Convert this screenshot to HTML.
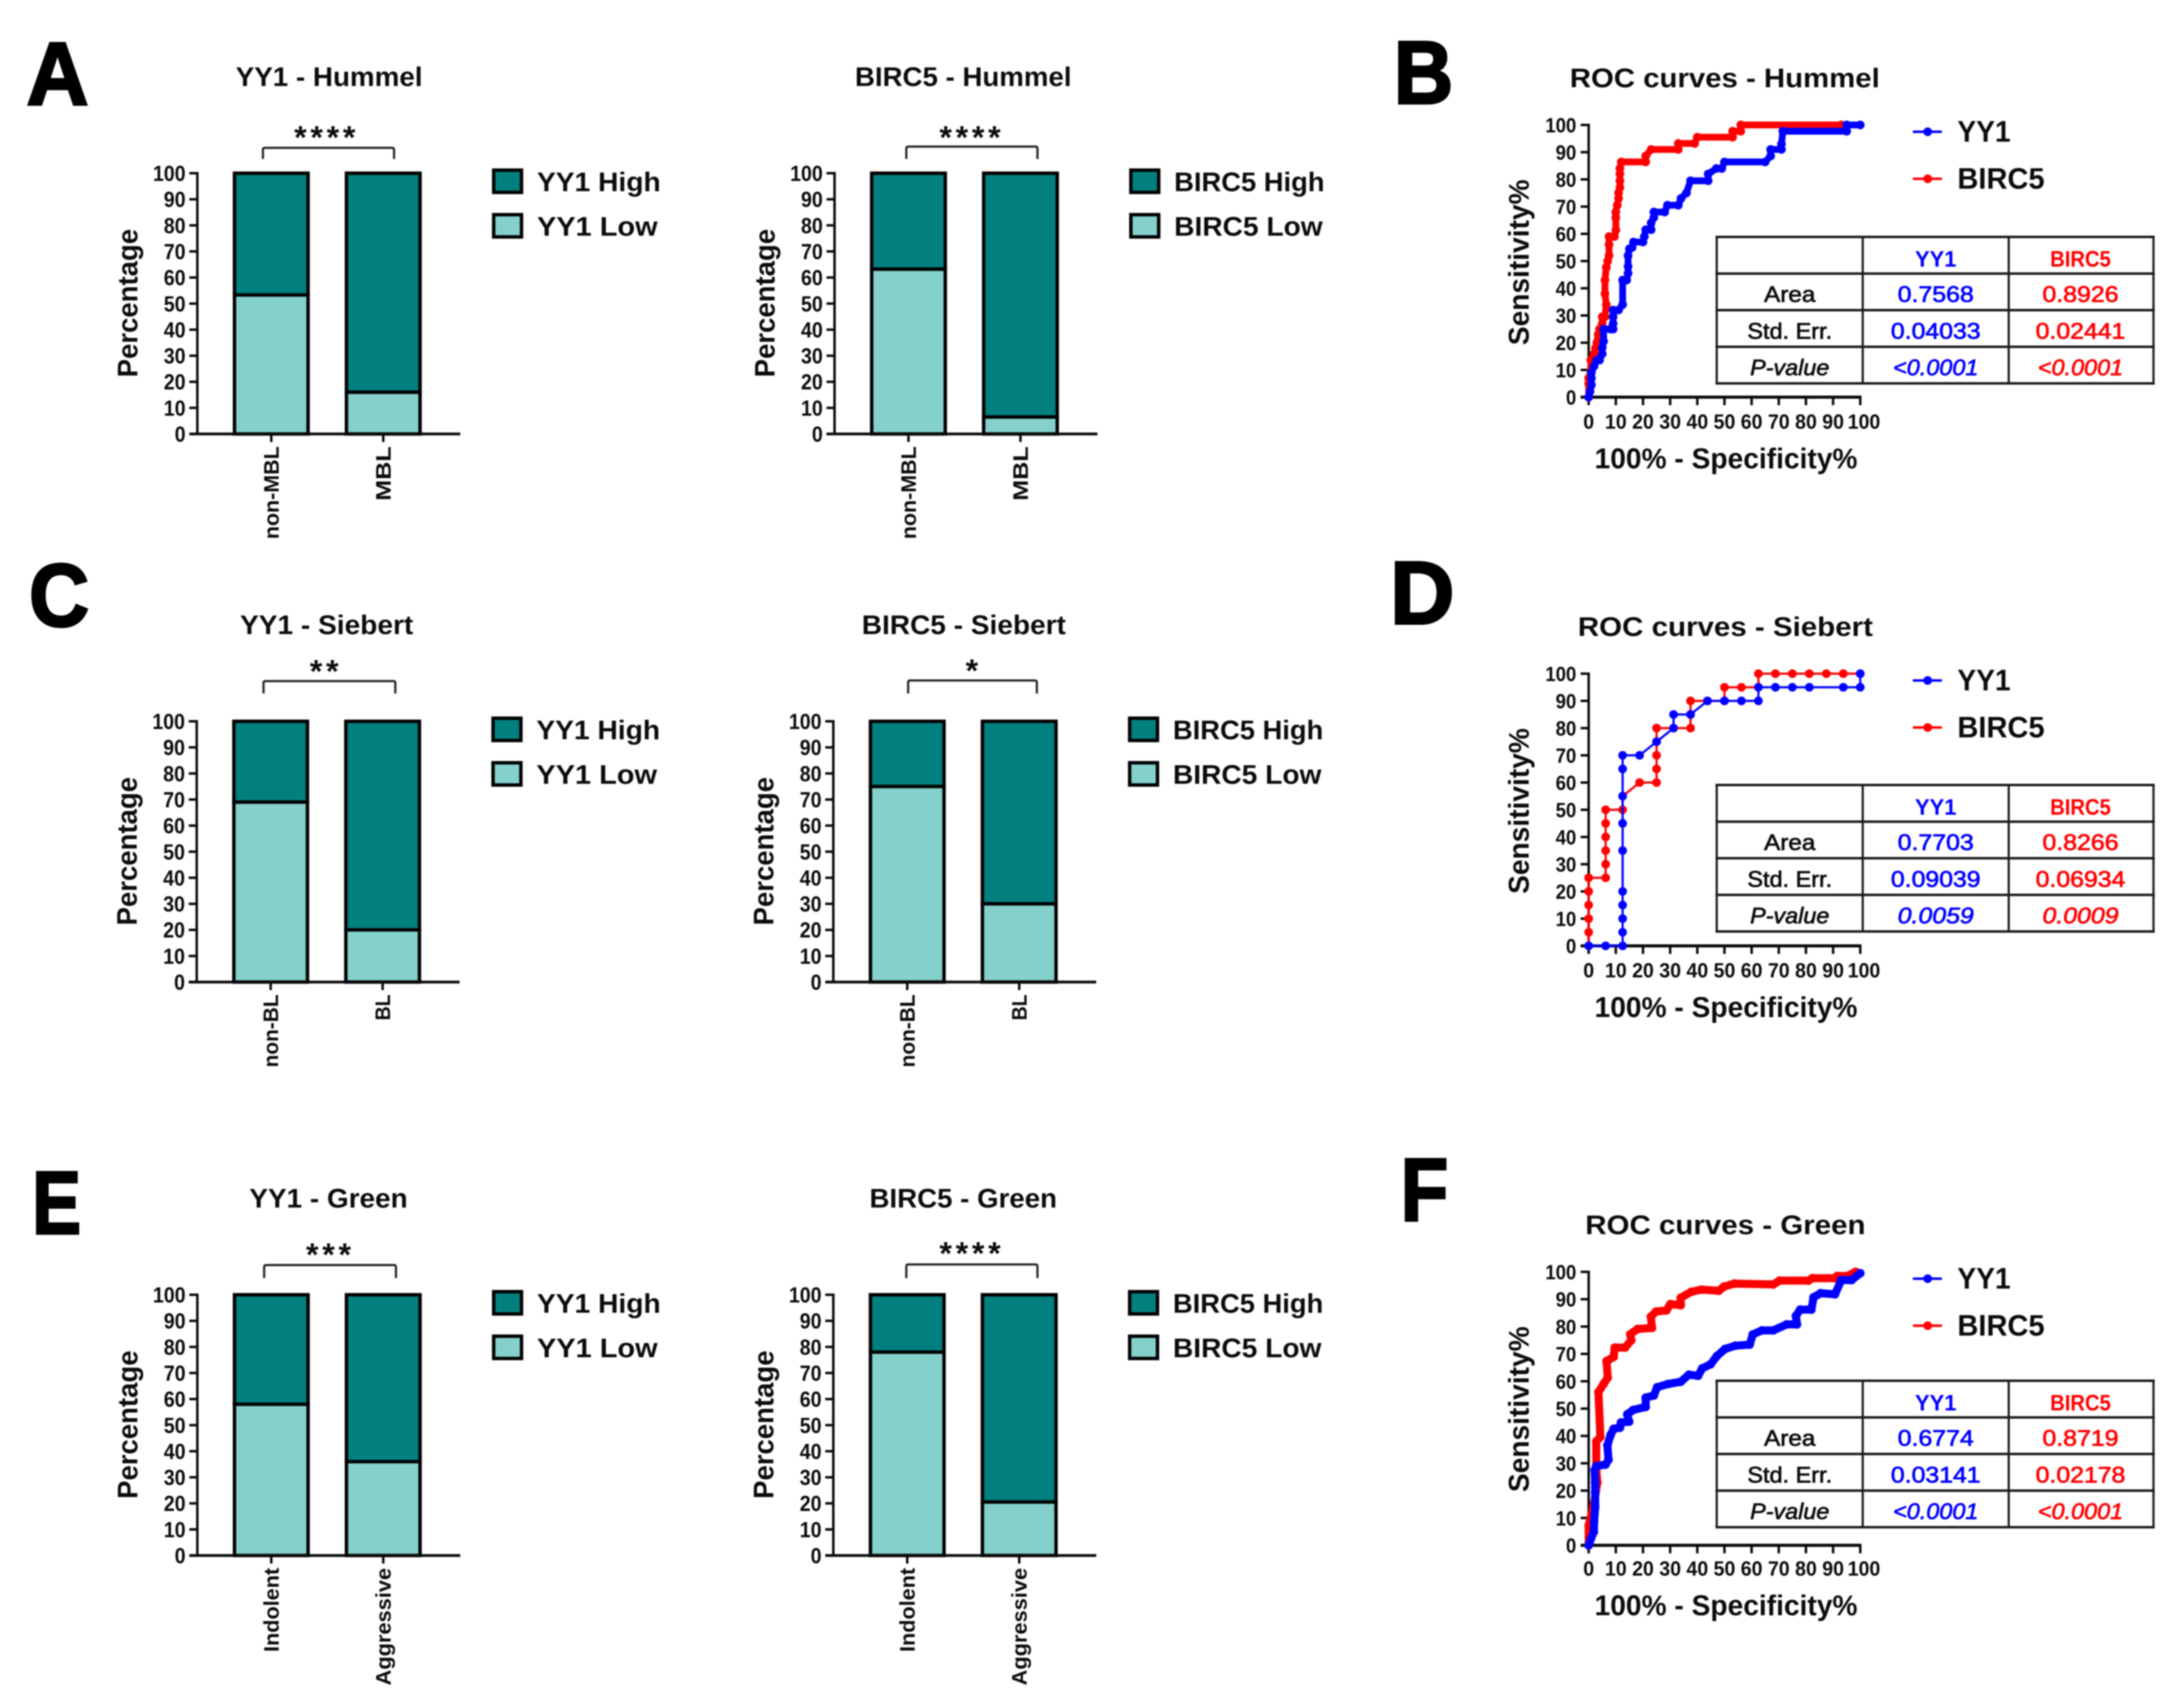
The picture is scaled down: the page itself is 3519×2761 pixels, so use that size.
<!DOCTYPE html>
<html lang="en">
<head>
<meta charset="utf-8">
<title>YY1 and BIRC5 expression and ROC curves</title>
<style>
html,body{margin:0;padding:0;background:#fff;}
body{width:3519px;height:2761px;overflow:hidden;}
#figure{display:block;filter:blur(1.1px);}
text{font-family:"Liberation Sans",sans-serif;fill:#0c0c0c;}
.letter{font-size:144px;font-weight:bold;fill:#000;stroke:#000;stroke-width:4px;}
</style>
</head>
<body>
<svg id="figure" xmlns="http://www.w3.org/2000/svg" width="3519" height="2761" viewBox="0 0 3519 2761">
<rect x="0" y="0" width="3519" height="2761" fill="#ffffff"/>
<text class="letter" x="43" y="169" textLength="100" lengthAdjust="spacingAndGlyphs">A</text>
<text class="letter" x="2253" y="167" textLength="96" lengthAdjust="spacingAndGlyphs">B</text>
<text class="letter" x="47" y="1012" textLength="97" lengthAdjust="spacingAndGlyphs">C</text>
<text class="letter" x="2247" y="1008" textLength="104" lengthAdjust="spacingAndGlyphs">D</text>
<text class="letter" x="52" y="1994" textLength="79" lengthAdjust="spacingAndGlyphs">E</text>
<text class="letter" x="2264" y="1973" textLength="77" lengthAdjust="spacingAndGlyphs">F</text>
</svg>
<script>
// ---------- stacked-bar data (percentage "Low"; remainder to 100 is "High") ----------
const percentTicks = [0,10,20,30,40,50,60,70,80,90,100];
const categoriesMbl = ['non-MBL','MBL'];
const categoriesBl = ['non-BL','BL'];
const categoriesGreen = ['Indolent','Aggressive'];
const yy1LowHummel = [53.3,16];
const birc5LowHummel = [63.2,6.5];
const yy1LowSiebert = [69,20];
const birc5LowSiebert = [75,30];
const yy1LowGreen = [58,36];
const birc5LowGreen = [78,20.5];

// ---------- ROC data: [100% - specificity, sensitivity] ----------
const rocTicks = [0,10,20,30,40,50,60,70,80,90,100];
const hummelYY1 = [[0,0],[0.5,2],[1,4.5],[1,7],[1,9],[2,11.4],[3,13.6],[4,13.6],[5,15.9],[5,18.2],[5.5,20.5],[5.5,25],[8,25],[9,25],[9,27],[9,29.5],[9,32],[11,32],[12.5,34],[12.5,43],[14,43],[14.5,45.5],[14.5,48],[14.5,52],[15,54.5],[16,55],[16.5,57],[20,57],[20.5,59],[21,61.5],[23,61.5],[23,64],[24,66],[24,68],[28,68],[29,70.5],[33,70.5],[34,73],[36,75],[37.5,79.5],[44,79.5],[44,82],[47,84],[49,84],[50,86.4],[65,86.4],[67,88.6],[67,91],[71,91],[71,93],[71.5,97.7],[95,97.7],[95,100],[100,100]];
const hummelBIRC5 = [[0,0],[0,5],[0,7],[0.8,9],[0.8,13.6],[2,16],[2.5,18],[3,20],[3.5,23],[4,25],[5,27],[5,29.5],[6,29.5],[6.5,34],[6,38],[6,43],[6.5,47.7],[7,50],[7.5,52],[7.5,56],[7.5,59],[9.5,59],[10,61.4],[10,66],[10,68],[10.5,70.5],[11,73],[11,75],[11.5,77],[11.5,79.5],[11.5,82],[11.5,84],[12,86.4],[21,86.4],[21,88.6],[23,91],[33,91],[33,93.2],[39,93.2],[40,95.5],[53,95.5],[53,97.7],[56,97.7],[56,100],[93,100]];
const siebertYY1 = [[0,0],[6.25,0],[12.5,0],[12.5,5],[12.5,10],[12.5,15],[12.5,20],[12.5,35],[12.5,45],[12.5,55],[12.5,65],[12.5,70],[18.75,70],[25,75],[31.25,80],[31.25,85],[37.5,85],[43.75,90],[50,90],[56.25,90],[62.5,90],[62.5,95],[68.75,95],[75,95],[81.25,95],[93.75,95],[100,95],[100,100]];
const siebertBIRC5 = [[0,0],[0,5],[0,10],[0,15],[0,20],[0,25],[6.25,25],[6.25,30],[6.25,35],[6.25,40],[6.25,45],[6.25,50],[12.5,50],[12.5,55],[18.75,60],[25,60],[25,65],[25,70],[25,75],[25,80],[31.25,80],[37.5,80],[37.5,85],[37.5,90],[43.75,90],[50,90],[50,95],[56.25,95],[62.5,95],[62.5,100],[68.75,100],[75,100],[81.25,100],[87.5,100],[93.75,100],[100,100]];
const greenYY1 = [[0,0],[0.9,2.6],[1.9,4.9],[2,8.7],[2.4,14],[2.4,19.3],[2.4,23],[2.2,27.5],[2.8,29],[6.2,29.5],[7.3,31.3],[6.9,36.6],[8.1,40.4],[9.2,42.6],[11.5,43],[11.9,44.9],[14.9,45.2],[14.2,47.9],[16.4,49.5],[21,50.6],[21,54],[24,54.8],[25.2,57.8],[29.3,59],[33.9,59.8],[36.9,62.4],[40.3,62],[41.8,64.7],[44.9,66.2],[47.2,69.2],[50.2,71.8],[54,73],[59.3,73.4],[60.4,77.1],[63.8,78.6],[68,78.6],[72.9,80.8],[76.7,80.8],[76.3,83.9],[77.9,86.2],[82,86.2],[82.8,90.7],[85.4,92.2],[90.7,91.8],[93,97],[96.8,97],[100,99.5]];
const greenBIRC5 = [[0,0],[0,7.2],[2,15.5],[3.2,23],[2.8,27.5],[2.8,38],[4.3,39.6],[3.6,56],[5.5,59],[7,61.3],[6.6,67.4],[9.2,68.9],[9.6,72.3],[13.4,72.3],[15.7,75],[15.3,77.2],[18,79.1],[23.3,79.5],[22.9,83.6],[24.8,85.5],[28.6,85.9],[30.1,88.2],[33.9,87.8],[33.9,90.5],[37.7,92.7],[41.5,93.5],[47.9,93.1],[49.8,94.6],[53.6,95.7],[68,95.4],[70.3,96.8],[80.9,96.8],[82.4,97.7],[90.7,97.7],[91.5,98.5],[95.3,98.5],[98.3,100]];

// ---------- ROC summary tables ----------
const tableRowLabels = ['Area','Std. Err.','P-value'];
const hummelYY1Stats = ['0.7568','0.04033','<0.0001'];
const hummelBIRC5Stats = ['0.8926','0.02441','<0.0001'];
const siebertYY1Stats = ['0.7703','0.09039','0.0059'];
const siebertBIRC5Stats = ['0.8266','0.06934','0.0009'];
const greenYY1Stats = ['0.6774','0.03141','<0.0001'];
const greenBIRC5Stats = ['0.8719','0.02178','<0.0001'];

const NS = 'http://www.w3.org/2000/svg';
const root = document.getElementById('figure');
const TEAL = '#028080', AQUA = '#84d0cb', INK = '#0a0a0a';
const BLUE = '#0000ff', RED = '#ff0000';

function mk(parent, tag, attrs, content) {
  const e = document.createElementNS(NS, tag);
  for (const k in attrs) e.setAttribute(k, attrs[k]);
  if (content !== undefined) e.textContent = content;
  parent.appendChild(e);
  return e;
}
function fitWidth(str, perChar) { return (str.length * perChar).toFixed(1); }

function drawBarChart(prefix, axisX, y100, title, titleCx, titleW, cats, lows, gene, highW, lowW, stars, brL, brR, brTop, brBot, starCx, starY, labelLens) {
  const y0 = y100 + 421.5;
  const yScale = v => y0 - (v / 100) * (y0 - y100);
  const xScale = i => axisX + 119.5 + i * 181;
  const barW = 119;
  const g = mk(root, 'g', {});
  
  

  const t = mk(g, 'text', {x: titleCx - 1, y: y100 - 141, 'text-anchor': 'middle', 'font-size': 44, 'font-weight': 'bold', textLength: titleW, lengthAdjust: 'spacingAndGlyphs'}, title);
  
  

  const st = mk(g, 'text', {x: starCx + 3, y: starY + 27, 'text-anchor': 'middle', 'font-size': 52, 'font-weight': 'bold', 'letter-spacing': 6, fill: '#222'}, stars);
  
  

  const br = mk(g, 'path', {d: `M${brL} ${brBot}V${brTop + 3}Q${brL} ${brTop} ${brL + 3} ${brTop}H${brR - 3}Q${brR} ${brTop} ${brR} ${brTop + 3}V${brBot}`, fill: 'none', stroke: '#222', 'stroke-width': 3.5});
  
  

  const yTitle = mk(g, 'text', {transform: `translate(${axisX - 97},${y100 + 210}) rotate(-90)`, 'text-anchor': 'middle', 'font-size': 45, 'font-weight': 'bold', textLength: 240, lengthAdjust: 'spacingAndGlyphs'}, 'Percentage');
  
  

  percentTicks.forEach(v => {
    const tk = mk(g, 'line', {x1: axisX - 13, x2: axisX, y1: yScale(v), y2: yScale(v), stroke: INK, 'stroke-width': 4});
    
    
    const lb = mk(g, 'text', {x: axisX - 19, y: yScale(v) + 12.5, 'text-anchor': 'end', 'font-size': 35, 'font-weight': 'bold', textLength: fitWidth(String(v), 17.6), lengthAdjust: 'spacingAndGlyphs'}, String(v));
    
    
  });

  cats.forEach((c, i) => {
    const cx = xScale(i);
    const hi = mk(g, 'rect', {x: cx - barW / 2, y: yScale(100), width: barW, height: yScale(lows[i]) - yScale(100), fill: TEAL, stroke: '#000', 'stroke-width': 5.5});
    
    
    const lo = mk(g, 'rect', {x: cx - barW / 2, y: yScale(lows[i]), width: barW, height: yScale(0) - yScale(lows[i]), fill: AQUA, stroke: '#000', 'stroke-width': 5.5});
    
    
    const tk = mk(g, 'line', {x1: cx, x2: cx, y1: y0, y2: y0 + 13, stroke: INK, 'stroke-width': 4});
    
    
    const lb = mk(g, 'text', {transform: `translate(${cx + 12},${y0 + 20}) rotate(-90)`, 'text-anchor': 'end', 'font-size': 34, 'font-weight': 'bold', textLength: labelLens[i], lengthAdjust: 'spacingAndGlyphs'}, c);
    
    
  });

  const ya = mk(g, 'line', {x1: axisX, x2: axisX, y1: y100 - 2, y2: y0 + 2, stroke: INK, 'stroke-width': 4});
  
  
  const xa = mk(g, 'line', {x1: axisX - 13, x2: axisX + 425, y1: y0, y2: y0, stroke: INK, 'stroke-width': 4.5});
  
  

  [[gene + ' High', TEAL, -5, 29, highW], [gene + ' Low', AQUA, 67, 101, lowW]].forEach(row => {
    const sw = mk(g, 'rect', {x: axisX + 479, y: y100 + row[2], width: 45, height: 36, fill: row[1], stroke: '#000', 'stroke-width': 5.5});
    
    
    const lt = mk(g, 'text', {x: axisX + 549, y: y100 + row[3], 'font-size': 44, 'font-weight': 'bold', textLength: row[4], lengthAdjust: 'spacingAndGlyphs'}, row[0]);
    
    
  });
}

function drawRoc(prefix, y100, y0, title, titleCx, titleW, yy1, birc5, lineW, yy1Stats, birc5Stats, tableTop) {
  const x0 = 2568, x100 = 3007;
  const xScale = v => x0 + (v / 100) * (x100 - x0);
  const yScale = v => y0 - (v / 100) * (y0 - y100);
  const g = mk(root, 'g', {});
  
  

  const t = mk(g, 'text', {x: titleCx - 2, y: y100 - 61, 'text-anchor': 'middle', 'font-size': 44, 'font-weight': 'bold', textLength: titleW, lengthAdjust: 'spacingAndGlyphs'}, title);
  
  

  const yTitle = mk(g, 'text', {transform: `translate(2471,${y100 + 222}) rotate(-90)`, 'text-anchor': 'middle', 'font-size': 46, 'font-weight': 'bold', textLength: 268, lengthAdjust: 'spacingAndGlyphs'}, 'Sensitivity%');
  
  
  const xTitle = mk(g, 'text', {x: 2790, y: y100 + 555, 'text-anchor': 'middle', 'font-size': 46, 'font-weight': 'bold', textLength: 425, lengthAdjust: 'spacingAndGlyphs'}, '100% - Specificity%');
  
  

  rocTicks.forEach(v => {
    const ty = mk(g, 'line', {x1: x0 - 13, x2: x0, y1: yScale(v), y2: yScale(v), stroke: INK, 'stroke-width': 4});
    
    
    const ly = mk(g, 'text', {x: x0 - 20, y: yScale(v) + 12, 'text-anchor': 'end', 'font-size': 33, 'font-weight': 'bold', textLength: fitWidth(String(v), 16.7), lengthAdjust: 'spacingAndGlyphs'}, String(v));
    
    
    const tx = mk(g, 'line', {x1: xScale(v), x2: xScale(v), y1: y0, y2: y0 + 13, stroke: INK, 'stroke-width': 4});
    
    
    const lx = mk(g, 'text', {x: xScale(v) + (v === 100 ? 6 : 0), y: y100 + 491, 'text-anchor': 'middle', 'font-size': 33, 'font-weight': 'bold', textLength: fitWidth(String(v), 17.6), lengthAdjust: 'spacingAndGlyphs'}, String(v));
    
    
  });
  const ya = mk(g, 'line', {x1: x0, x2: x0, y1: y100 - 2, y2: y0 + 2, stroke: INK, 'stroke-width': 4});
  
  
  const xa = mk(g, 'line', {x1: x0 - 13, x2: x100 + 2, y1: y0, y2: y0, stroke: INK, 'stroke-width': 5});
  
  

  [[birc5, RED, 'birc5'], [yy1, BLUE, 'yy1']].forEach(series => {
    const pts = series[0].map(p => xScale(p[0]).toFixed(1) + ',' + yScale(p[1]).toFixed(1)).join(' ');
    const line = mk(g, 'polyline', {points: pts, fill: 'none', stroke: series[1], 'stroke-width': lineW, 'stroke-linejoin': 'round', 'stroke-linecap': 'round'});
    
    
    series[0].forEach(p => {
      const c = mk(g, 'circle', {cx: xScale(p[0]), cy: yScale(p[1]), r: 7, fill: series[1]});
      
      
    });
  });

  [['YY1', BLUE, 11, 27, 86], ['BIRC5', RED, 87, 103, 141]].forEach(row => {
    const ll = mk(g, 'line', {x1: 3092, x2: 3139, y1: y100 + row[2], y2: y100 + row[2], stroke: row[1], 'stroke-width': 4});
    
    
    const lm = mk(g, 'circle', {cx: 3116, cy: y100 + row[2], r: 7, fill: row[1]});
    
    
    const lt = mk(g, 'text', {x: 3164, y: y100 + row[3], 'font-size': 48, 'font-weight': 'bold', textLength: row[4], lengthAdjust: 'spacingAndGlyphs'}, row[0]);
    
    
  });

  // summary table
  const colX = [2775, 3011, 3247, 3481];
  const rowH = 59.2;
  const tb = mk(g, 'g', {});
  
  
  for (let i = 0; i <= 4; i++) {
    const h = mk(tb, 'line', {x1: colX[0] - 2, x2: colX[3] + 2, y1: tableTop + i * rowH, y2: tableTop + i * rowH, stroke: '#1a1a1a', 'stroke-width': 4});
    
    
  }
  colX.forEach(x => {
    const v = mk(tb, 'line', {x1: x, x2: x, y1: tableTop, y2: tableTop + 4 * rowH, stroke: '#1a1a1a', 'stroke-width': 3.5});
    
    
  });
  const charW = s => {
    if (s === '0.7568' || s.length === 6) return 123;
    if (s.length === 7 && s[0] === '<') return 138;
    return 145;
  };
  const head1 = mk(tb, 'text', {x: 3129, y: tableTop + 48, 'text-anchor': 'middle', 'font-size': 36, 'font-weight': 'bold', style: 'fill:' + BLUE, textLength: 67, lengthAdjust: 'spacingAndGlyphs'}, 'YY1');
  
  
  const head2 = mk(tb, 'text', {x: 3363, y: tableTop + 48, 'text-anchor': 'middle', 'font-size': 36, 'font-weight': 'bold', style: 'fill:' + RED, textLength: 98, lengthAdjust: 'spacingAndGlyphs'}, 'BIRC5');
  
  
  const labelW = [83, 137, 128];
  tableRowLabels.forEach((lab, i) => {
    const by = tableTop + 105 + i * 59.3;
    const italic = i === 2 ? 'italic' : 'normal';
    const a = mk(tb, 'text', {x: 2893, y: by, 'text-anchor': 'middle', 'font-size': 36, 'font-style': italic, stroke: '#0c0c0c', 'stroke-width': 1, textLength: labelW[i], lengthAdjust: 'spacingAndGlyphs'}, lab);
    
    
    const b = mk(tb, 'text', {x: 3129, y: by, 'text-anchor': 'middle', 'font-size': 36, 'font-style': italic, stroke: BLUE, 'stroke-width': 1, style: 'fill:' + BLUE, textLength: charW(yy1Stats[i]), lengthAdjust: 'spacingAndGlyphs'}, yy1Stats[i]);
    
    
    const c = mk(tb, 'text', {x: 3363, y: by, 'text-anchor': 'middle', 'font-size': 36, 'font-style': italic, stroke: RED, 'stroke-width': 1, style: 'fill:' + RED, textLength: charW(birc5Stats[i]), lengthAdjust: 'spacingAndGlyphs'}, birc5Stats[i]);
    
    
  });
}

drawBarChart('yy1-hummel', 319, 280, 'YY1 - Hummel', 533, 302, categoriesMbl, yy1LowHummel, 'YY1', 200, 195, '****', 425, 637, 239, 257, 525, 213, [150, 88]);
drawBarChart('birc5-hummel', 1349, 280, 'BIRC5 - Hummel', 1558, 350, categoriesMbl, birc5LowHummel, 'BIRC5', 243, 240, '****', 1465, 1677, 237, 257, 1568, 213, [150, 88]);
drawBarChart('yy1-siebert', 318, 1166, 'YY1 - Siebert', 529, 280, categoriesBl, yy1LowSiebert, 'YY1', 200, 195, '**', 426, 639, 1101, 1121, 524, 1076, [118, 42]);
drawBarChart('birc5-siebert', 1347, 1166, 'BIRC5 - Siebert', 1559, 330, categoriesBl, birc5LowSiebert, 'BIRC5', 243, 240, '*', 1468, 1676, 1100, 1121, 1571, 1075, [118, 42]);
drawBarChart('yy1-green', 319, 2093, 'YY1 - Green', 532, 256, categoriesGreen, yy1LowGreen, 'YY1', 200, 195, '***', 427, 640, 2045, 2066, 531, 2019, [136, 190]);
drawBarChart('birc5-green', 1347, 2093, 'BIRC5 - Green', 1558, 303, categoriesGreen, birc5LowGreen, 'BIRC5', 243, 240, '****', 1465, 1677, 2044, 2066, 1568, 2017, [136, 190]);

drawRoc('hummel', 202, 642, 'ROC curves - Hummel', 2790, 501, hummelYY1, hummelBIRC5, 11, hummelYY1Stats, hummelBIRC5Stats, 383);
drawRoc('siebert', 1089, 1529, 'ROC curves - Siebert', 2791, 477, siebertYY1, siebertBIRC5, 3.5, siebertYY1Stats, siebertBIRC5Stats, 1269);
drawRoc('green', 2056, 2498, 'ROC curves - Green', 2791, 453, greenYY1, greenBIRC5, 13, greenYY1Stats, greenBIRC5Stats, 2232);
</script>
</body>
</html>
